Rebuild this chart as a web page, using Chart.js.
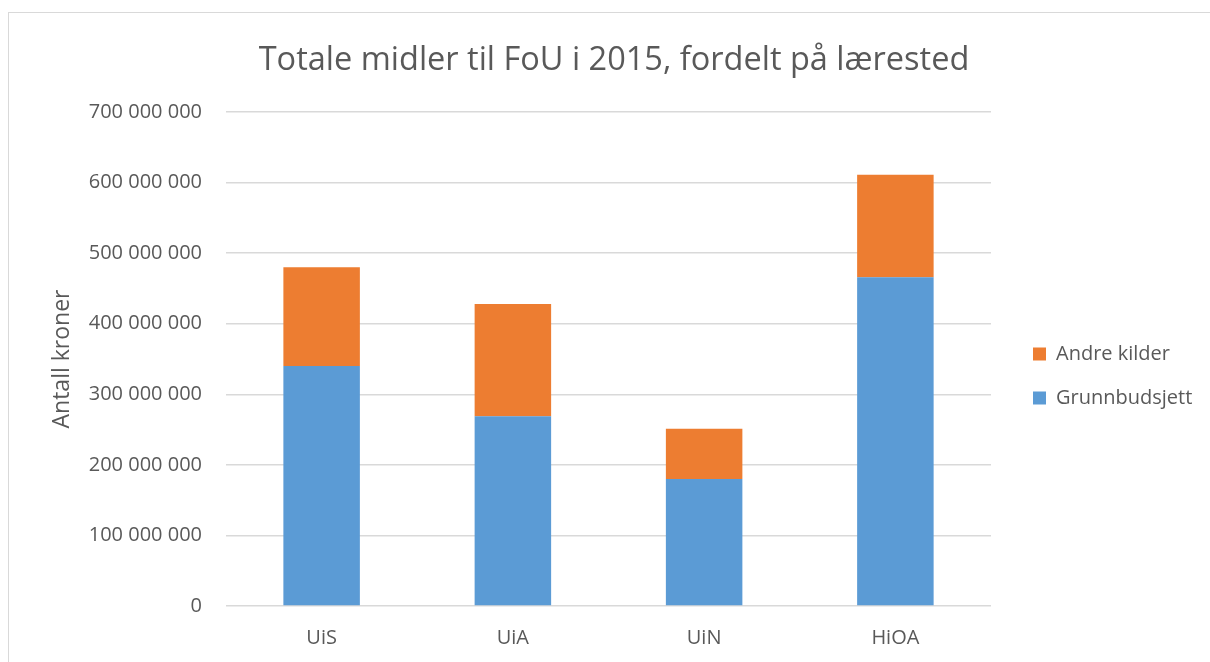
<!DOCTYPE html>
<html>
<head>
<meta charset="utf-8">
<script src="https://cdn.jsdelivr.net/npm/chart.js@4.4.1/dist/chart.umd.min.js"></script>
<style>
  html, body { margin: 0; padding: 0; background: #fff; }
  #wrap { position: relative; width: 1210px; height: 662px; overflow: hidden; }
  #frame { position: absolute; left: 8px; top: 12px; width: 1300px; height: 800px; border: 1.5px solid #d9d9d9; box-sizing: border-box; }
  #c { position: absolute; left: 0; top: 0; }
</style>
</head>
<body>
<div id="wrap">
  <div id="frame"></div>
  <canvas id="c" width="1210" height="662"></canvas>
</div>
<script>
const categories = ['UiS', 'UiA', 'UiN', 'HiOA'];
const grunnbudsjett = [340000000, 269000000, 180000000, 466000000];
const andreKilder = [140000000, 159000000, 71000000, 145000000];
const seriesNames = ['Grunnbudsjett', 'Andre kilder'];
const yMax = 700000000;
const yStep = 100000000;
const titleText = 'Totale midler til FoU i 2015, fordelt på lærested';
const yTitle = 'Antall kroner';

const TXT = '#595959';
const FONT = "'Open Sans', 'Noto Sans', sans-serif";

function fmt(v) {
  return String(Math.round(v)).replace(/\B(?=(\d{3})+(?!\d))/g, ' ');
}

const legendPatch = {
  id: 'legendPatch',
  beforeLayout(chart) {
    const lg = chart.legend;
    if (lg && !lg._patched) {
      const orig = lg.fit;
      lg.fit = function () { orig.call(this); this.width = 219; };
      lg._patched = true;
    }
  },
  afterLayout(chart) {
    const lg = chart.legend;
    if (!lg) return;
    const pad = lg.options.labels.padding;
    const w = lg.width;
    lg.left = 1033 - pad;
    lg.right = lg.left + w;
    lg.top += 45;
    lg.bottom += 45;
  }
};

new Chart(document.getElementById('c'), {
  type: 'bar',
  data: {
    labels: categories,
    datasets: [
      { label: seriesNames[0], data: grunnbudsjett, backgroundColor: '#5B9BD5', borderWidth: 0 },
      { label: seriesNames[1], data: andreKilder, backgroundColor: '#ED7D31', borderWidth: 0 }
    ]
  },
  options: {
    responsive: false,
    animation: false,
    devicePixelRatio: 1,
    layout: { padding: { left: 18, right: 0, top: 0, bottom: 0 } },
    datasets: { bar: { categoryPercentage: 0.8, barPercentage: 0.5 } },
    plugins: {
      title: {
        display: true, text: titleText, color: TXT,
        font: { family: FONT, size: 32.5, weight: 'normal' },
        padding: { top: 41, bottom: 32 }
      },
      legend: {
        display: true, position: 'right', reverse: true,
        labels: {
          color: TXT, boxWidth: 13, boxHeight: 13, padding: 24,
          font: { family: FONT, size: 20 }
        }
      },
      tooltip: { enabled: false }
    },
    scales: {
      x: {
        stacked: true,
        grid: { display: false, drawTicks: false },
        border: { display: false },
        ticks: { color: TXT, font: { family: FONT, size: 20 }, padding: 20 },
        afterFit(s) { s.height = 56; }
      },
      y: {
        stacked: true, min: 0, max: yMax,
        grid: { color: '#d9d9d9', lineWidth: 1.5, drawTicks: false },
        border: { display: false },
        ticks: { stepSize: yStep, color: TXT, font: { family: FONT, size: 20 }, padding: 24, callback: (v) => fmt(v) },
        title: { display: true, text: yTitle, color: TXT, font: { family: FONT, size: 23 }, padding: { top: 31, bottom: 0 } },
        afterFit(s) { s.width = 208; }
      }
    }
  },
  plugins: [legendPatch]
});
</script>
</body>
</html>
